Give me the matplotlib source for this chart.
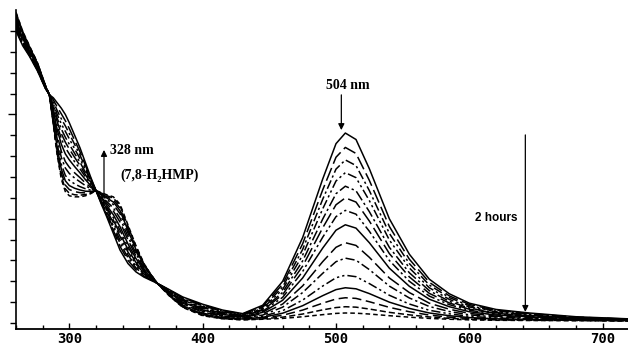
import matplotlib
matplotlib.use("Agg")
import matplotlib.pyplot as plt
import numpy as np

# wavelength grid (nm)
wavelength = [260, 265, 270, 276, 282, 285, 288, 291, 294, 297, 300, 304, 308, 312, 316,
              320, 324, 328, 333, 338, 344, 350, 356, 361, 366, 375, 385, 400, 415, 430,
              445, 460, 475, 490, 500, 507, 515, 525, 540, 555, 570, 585, 600, 620, 645,
              680, 719]

# absorbance of successive scans (start -> 2 hours)
scan_01 = [1.40, 1.33, 1.28, 1.21, 1.125, 1.095, 1.08, 1.055, 1.03, 1.00, 0.96, 0.90, 0.84, 0.77, 0.70,
           0.635, 0.57, 0.51, 0.43, 0.35, 0.285, 0.245, 0.22, 0.205, 0.19, 0.16, 0.125, 0.09, 0.062, 0.045,
           0.085, 0.20, 0.41, 0.69, 0.86, 0.911, 0.88, 0.74, 0.50, 0.33, 0.21, 0.14, 0.095, 0.065, 0.048,
           0.03, 0.02]
scan_02 = [1.407, 1.336, 1.284, 1.213, 1.126, 1.095, 1.070, 1.035, 1.003, 0.970, 0.932, 0.876, 0.821, 0.757, 0.694,
           0.635, 0.574, 0.518, 0.444, 0.368, 0.300, 0.255, 0.225, 0.207, 0.19, 0.158, 0.121, 0.086, 0.059, 0.043,
           0.080, 0.186, 0.380, 0.638, 0.795, 0.842, 0.813, 0.684, 0.463, 0.306, 0.195, 0.130, 0.089, 0.061, 0.045,
           0.028, 0.019]
scan_03 = [1.414, 1.340, 1.288, 1.216, 1.127, 1.095, 1.061, 1.017, 0.979, 0.945, 0.908, 0.856, 0.805, 0.746, 0.688,
           0.635, 0.578, 0.526, 0.456, 0.383, 0.313, 0.264, 0.230, 0.209, 0.19, 0.156, 0.118, 0.082, 0.056, 0.041,
           0.075, 0.173, 0.353, 0.593, 0.738, 0.782, 0.755, 0.635, 0.430, 0.285, 0.182, 0.122, 0.083, 0.057, 0.043,
           0.027, 0.018]
scan_04 = [1.420, 1.345, 1.291, 1.219, 1.128, 1.095, 1.051, 0.999, 0.955, 0.919, 0.883, 0.835, 0.788, 0.735, 0.682,
           0.635, 0.582, 0.533, 0.468, 0.398, 0.326, 0.272, 0.234, 0.212, 0.19, 0.153, 0.114, 0.078, 0.053, 0.038,
           0.070, 0.161, 0.326, 0.547, 0.681, 0.721, 0.697, 0.587, 0.398, 0.264, 0.169, 0.113, 0.077, 0.054, 0.040,
           0.026, 0.018]
scan_05 = [1.427, 1.351, 1.295, 1.222, 1.129, 1.095, 1.042, 0.980, 0.930, 0.891, 0.857, 0.813, 0.771, 0.723, 0.676,
           0.635, 0.586, 0.541, 0.482, 0.415, 0.340, 0.282, 0.239, 0.214, 0.19, 0.151, 0.110, 0.074, 0.050, 0.036,
           0.065, 0.147, 0.298, 0.498, 0.620, 0.656, 0.634, 0.534, 0.363, 0.241, 0.155, 0.104, 0.071, 0.050, 0.037,
           0.024, 0.017]
scan_06 = [1.432, 1.355, 1.298, 1.224, 1.130, 1.095, 1.033, 0.963, 0.908, 0.867, 0.834, 0.794, 0.755, 0.712, 0.671,
           0.635, 0.590, 0.548, 0.493, 0.429, 0.352, 0.290, 0.243, 0.216, 0.19, 0.149, 0.107, 0.070, 0.047, 0.034,
           0.061, 0.136, 0.273, 0.456, 0.567, 0.600, 0.580, 0.489, 0.333, 0.221, 0.142, 0.096, 0.066, 0.046, 0.035,
           0.023, 0.016]
scan_07 = [1.439, 1.360, 1.301, 1.227, 1.131, 1.095, 1.024, 0.945, 0.884, 0.841, 0.810, 0.773, 0.739, 0.701, 0.666,
           0.635, 0.594, 0.555, 0.505, 0.445, 0.365, 0.299, 0.248, 0.218, 0.19, 0.147, 0.104, 0.066, 0.044, 0.032,
           0.056, 0.123, 0.247, 0.411, 0.510, 0.540, 0.522, 0.440, 0.300, 0.200, 0.129, 0.088, 0.061, 0.043, 0.033,
           0.022, 0.016]
scan_08 = [1.446, 1.366, 1.305, 1.230, 1.133, 1.095, 1.014, 0.925, 0.857, 0.811, 0.782, 0.750, 0.720, 0.688, 0.659,
           0.635, 0.598, 0.564, 0.519, 0.462, 0.379, 0.309, 0.253, 0.220, 0.19, 0.145, 0.100, 0.062, 0.041, 0.030,
           0.051, 0.109, 0.216, 0.359, 0.445, 0.471, 0.455, 0.385, 0.263, 0.176, 0.114, 0.078, 0.054, 0.038, 0.030,
           0.020, 0.015]
scan_09 = [1.455, 1.373, 1.310, 1.234, 1.134, 1.095, 1.001, 0.899, 0.823, 0.774, 0.747, 0.720, 0.697, 0.672, 0.651,
           0.635, 0.604, 0.574, 0.537, 0.484, 0.398, 0.321, 0.260, 0.223, 0.19, 0.142, 0.095, 0.056, 0.036, 0.027,
           0.044, 0.091, 0.178, 0.294, 0.363, 0.385, 0.372, 0.315, 0.216, 0.146, 0.095, 0.066, 0.046, 0.033, 0.026,
           0.018, 0.014]
scan_10 = [1.463, 1.379, 1.315, 1.238, 1.135, 1.095, 0.990, 0.878, 0.794, 0.743, 0.717, 0.695, 0.677, 0.659, 0.644,
           0.635, 0.608, 0.583, 0.552, 0.503, 0.414, 0.332, 0.265, 0.226, 0.19, 0.139, 0.090, 0.052, 0.033, 0.024,
           0.038, 0.076, 0.146, 0.238, 0.294, 0.311, 0.301, 0.256, 0.177, 0.120, 0.079, 0.055, 0.039, 0.029, 0.023,
           0.017, 0.013]
scan_11 = [1.471, 1.385, 1.319, 1.242, 1.137, 1.095, 0.977, 0.854, 0.761, 0.708, 0.684, 0.667, 0.654, 0.644, 0.637,
           0.635, 0.613, 0.593, 0.568, 0.524, 0.431, 0.344, 0.271, 0.229, 0.19, 0.136, 0.086, 0.047, 0.029, 0.021,
           0.032, 0.059, 0.110, 0.177, 0.217, 0.229, 0.222, 0.189, 0.133, 0.091, 0.061, 0.044, 0.032, 0.024, 0.020,
           0.015, 0.012]
scan_12 = [1.477, 1.390, 1.323, 1.244, 1.138, 1.095, 0.968, 0.836, 0.738, 0.682, 0.659, 0.646, 0.638, 0.632, 0.631,
           0.635, 0.617, 0.600, 0.580, 0.539, 0.444, 0.352, 0.276, 0.231, 0.19, 0.134, 0.082, 0.043, 0.026, 0.019,
           0.027, 0.047, 0.083, 0.131, 0.160, 0.169, 0.164, 0.141, 0.100, 0.070, 0.048, 0.035, 0.026, 0.020, 0.017,
           0.014, 0.011]
scan_13 = [1.482, 1.394, 1.326, 1.247, 1.139, 1.095, 0.961, 0.822, 0.719, 0.661, 0.640, 0.630, 0.625, 0.624, 0.627,
           0.635, 0.620, 0.606, 0.590, 0.551, 0.454, 0.359, 0.279, 0.232, 0.19, 0.133, 0.079, 0.040, 0.024, 0.018,
           0.024, 0.037, 0.062, 0.095, 0.115, 0.121, 0.118, 0.102, 0.075, 0.054, 0.038, 0.028, 0.022, 0.017, 0.015,
           0.013, 0.011]
scan_14 = [1.487, 1.398, 1.328, 1.249, 1.140, 1.095, 0.955, 0.809, 0.702, 0.643, 0.622, 0.615, 0.613, 0.616, 0.623,
           0.635, 0.623, 0.611, 0.599, 0.562, 0.464, 0.366, 0.283, 0.234, 0.19, 0.131, 0.077, 0.037, 0.021, 0.016,
           0.020, 0.028, 0.043, 0.063, 0.074, 0.078, 0.076, 0.067, 0.051, 0.039, 0.029, 0.022, 0.018, 0.015, 0.013,
           0.012, 0.010]
scan_15 = [1.49, 1.40, 1.33, 1.25, 1.14, 1.095, 0.95, 0.80, 0.69, 0.63, 0.61, 0.605, 0.605, 0.61, 0.62,
           0.635, 0.625, 0.615, 0.605, 0.57, 0.47, 0.37, 0.285, 0.235, 0.19, 0.13, 0.075, 0.035, 0.02, 0.015,
           0.018, 0.022, 0.03, 0.04, 0.046, 0.048, 0.047, 0.043, 0.035, 0.028, 0.022, 0.018, 0.015, 0.013, 0.012,
           0.011, 0.010]

scans = [scan_01, scan_02, scan_03, scan_04, scan_05, scan_06, scan_07, scan_08,
         scan_09, scan_10, scan_11, scan_12, scan_13, scan_14, scan_15]

x_tick_labels = ["300", "400", "500", "600", "700"]

# line styles for the scans
styles = [
    "-", (0, (9, 3)), (0, (6, 2, 1.5, 2)), (0, (6, 2, 1.5, 2, 1.5, 2)), (0, (7, 2, 1.5, 2)),
    (0, (10, 3)), (0, (6, 2, 1.5, 2, 1.5, 2)), "-", (0, (9, 3)), (0, (6, 2, 1.5, 2)),
    (0, (6, 2, 1.5, 2, 1.5, 2)), "-", (0, (6, 3)), (0, (4, 2)), (0, (3, 2)),
]

fig = plt.figure(figsize=(6.28, 3.49), dpi=100)
ax = fig.add_axes([16 / 628, 20 / 349, 612 / 628, 329 / 349])

for s, ls in zip(scans, styles):
    ax.plot(wavelength, s, color="black", lw=1.1, linestyle=ls)

ax.set_xlim(260.3, 719)
ax.set_ylim(-0.0288, 1.549)

for side in ("top", "right"):
    ax.spines[side].set_visible(False)
ax.spines["left"].set_bounds(-0.0288, 1.50)
ax.spines["left"].set_linewidth(1.2)
ax.spines["bottom"].set_linewidth(1.3)

ax.set_xticks([300, 400, 500, 600, 700])
ax.set_xticklabels(x_tick_labels)
ax.set_xticks(np.arange(260, 720, 20), minor=True)
ax.set_yticks([0.5, 1.0])
ax.set_yticklabels([])
ax.set_yticks(np.arange(0, 1.45, 0.1), minor=True)
ax.tick_params(axis="x", which="major", direction="in", length=4, width=1.0, pad=2.5)
ax.tick_params(axis="x", which="minor", direction="in", length=3, width=1.0)
ax.tick_params(axis="y", which="major", direction="out", length=6, width=1.0)
ax.tick_params(axis="y", which="minor", direction="out", length=4, width=1.0)
for lab in ax.get_xticklabels():
    lab.set_fontfamily("DejaVu Sans Mono")
    lab.set_fontweight("bold")
    lab.set_fontsize(10)

arrow = dict(arrowstyle="-|>", lw=0.9, color="black", mutation_scale=9, shrinkA=0, shrinkB=0)
ax.annotate("", xy=(504, 0.925), xytext=(504, 1.094), arrowprops=arrow)
ax.annotate("", xy=(326, 0.83), xytext=(326, 0.614), arrowprops=arrow)
ax.annotate("", xy=(642, 0.053), xytext=(642, 0.902), arrowprops=arrow)

serif = ["Liberation Serif", "DejaVu Serif"]
ax.text(509, 1.137, "504 nm", family=serif, fontweight="bold", fontsize=10, ha="center", va="center")
ax.text(330.7, 0.825, "328 nm", family=serif, fontweight="bold", fontsize=10, ha="left", va="center")
ax.text(338.2, 0.71, "(7,8-H\u2082HMP)", family=serif, fontweight="bold", fontsize=10, ha="left", va="center")
ax.text(636.3, 0.504, "2 hours", family=["Liberation Sans", "DejaVu Sans"], fontweight="bold",
        fontsize=8.5, ha="right", va="center")

fig.savefig("out.png", dpi=100)
